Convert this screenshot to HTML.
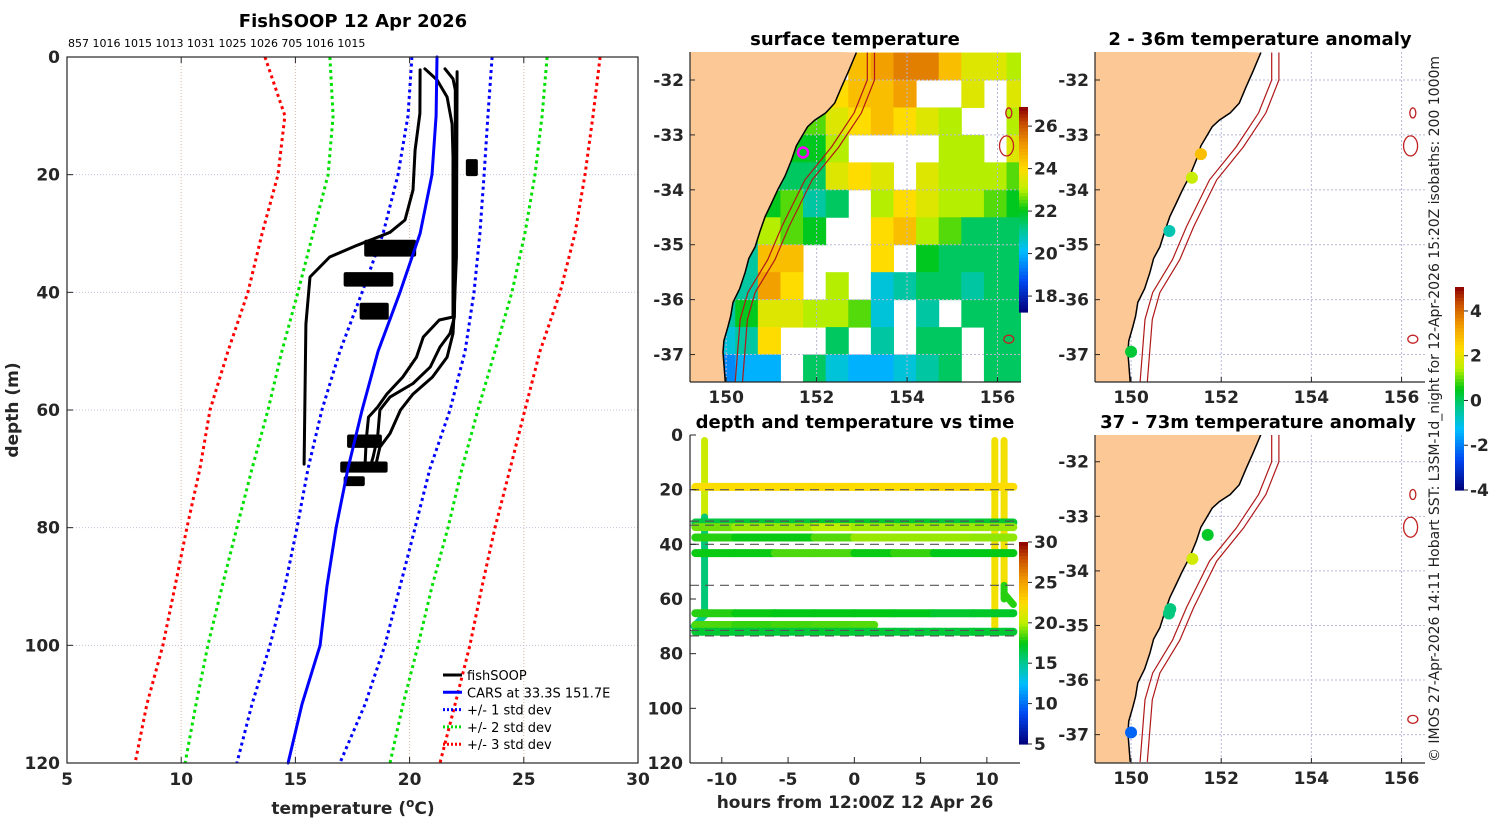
<!DOCTYPE html>
<html><head><meta charset="utf-8"><title>FishSOOP</title>
<style>
html,body{margin:0;padding:0;background:#fff;}
svg{display:block;font-family:"DejaVu Sans","Liberation Sans",sans-serif;}
.tk{font-size:17px;font-weight:bold;fill:#262626;}
.tt{font-size:18px;font-weight:bold;fill:#000;}
</style></head>
<body>
<svg id="fig" width="1500" height="820" viewBox="0 0 1500 820" xmlns="http://www.w3.org/2000/svg">
<rect width="1500" height="820" fill="#fff"/>
</svg>
<script>
// ---------- Profile panel data ----------
const profDepths = [0,10,20,30,40,50,60,70,80,90,100,110,120];
const carsMean = [21.2,21.16,20.98,20.46,19.58,18.62,17.92,17.3,16.78,16.38,16.08,15.29,14.68];
const std1Lo = [20.1,19.93,19.49,18.84,17.92,16.95,16.16,15.55,15.07,14.54,13.89,13.1,12.44];
const std1Hi = [23.61,23.43,23.26,23.08,22.82,22.43,21.77,20.89,20.24,19.58,18.92,18.05,16.95];
const std2Lo = [16.51,16.65,16.43,15.77,15.11,14.41,13.8,13.1,12.44,11.79,11.17,10.65,10.17];
const std2Hi = [26.02,25.8,25.49,25.05,24.48,23.74,22.99,22.29,21.68,20.98,20.37,19.71,19.14];
const std3Lo = [13.67,14.54,14.24,13.54,12.92,12.05,11.26,10.82,10.25,9.73,9.2,8.5,7.98];
const std3Hi = [28.34,28.03,27.68,27.24,26.59,25.71,25.05,24.4,23.74,23.17,22.64,21.99,21.33];
const profAD = [2.2,9.6,15.8,22.6,27.7,29.8,32,34,37.4,45.4,69.2];
const profAT = [20.46,20.45,20.24,20.15,19.8,19.14,17.7,16.5,15.64,15.46,15.38];
const profBD = [2,3.9,6.8,11.4,17,34,44.2,44.7,47.6,51,54.4,57.3,59.5,61.2,65.1,69.2];
const profBT = [20.67,21.2,21.64,21.86,21.9,21.9,21.9,21.3,20.6,20.3,19.7,19,18.6,18.2,18.1,18.05];
const profCD = [2,3.7,5.6,34,44.2,47,49.3,52.7,55.5,57.8,60,64.6,68,69.7];
const profCT = [21.55,21.9,22.0,22.0,21.96,21.77,21.33,20.9,20.15,19.14,18.7,18.6,18.4,18.27];
const profDD = [2.5,34,44.2,47,51,54.4,57.3,60,64,66.3,69.7];
const profDT = [22.08,22.05,21.94,21.9,21.64,21.0,20.15,19.6,19.14,18.7,18.5];
const blobDepth = [18.8,32.5,37.8,43.2,65.3,69.7,72.1];
const blobTmin = [22.55,18.1,17.2,17.9,17.35,17.05,17.2];
const blobTmax = [22.9,20.2,19.2,19.0,18.7,18.95,17.95];
const blobThick = [2.2,2.2,1.8,2.2,1.6,1.2,1.0];
const topLabels = "857 1016 1015 1013 1031 1025 1026 705 1016 1015";
const profXTicks = [5,10,15,20,25,30];
const profYTicks = [0,20,40,60,80,100,120];

// ---------- Time panel data ----------
const bandDepths = [19,32,33.7,37.5,43.2,65.2,69.5,72];
const bandStart = [-12,-12,-12,-12,-12,-12,-12,-12];
const bandEnd = [12,12,12,12,12,12,1.5,12];
const bandHours = [-12,-9,-6,-3,0,3,6,9,12];
const bandTemps = [
 [22.4,22.5,22.5,22.6,22.5,22.5,22.7,22.5,22.5],
 [16.6,16.8,16.8,17.0,17.0,17.0,16.8,17.0,16.8],
 [19.0,19.5,19.5,20.0,19.6,19.5,19.5,19.5,19.0],
 [18.0,17.6,17.6,18.6,19.5,19.5,19.5,19.4,19.4],
 [17.6,17.6,18.5,18.5,17.6,18.2,17.4,17.5,18.0],
 [18.0,17.6,17.5,17.5,17.5,17.4,17.0,17.1,17.0],
 [18.5,18.2,18.4,18.5,18.6,18.4,18.4,18.4,18.4],
 [16.9,16.8,16.8,16.9,16.8,16.8,16.8,16.9,16.8]];
const castH0 = [-11.3,-11.3,-11.3,10.6,11.3,11.3,11.3];
const castH1 = [-11.3,-11.3,-12.1,10.6,11.3,11.3,12.0];
const castD0 = [2,30,66,2,2,55,58];
const castD1 = [30,66,70,70,55,60,62];
const castT = [20.5,15.6,15.0,22.0,22.0,18.0,18.0];
const dashDepths = [20,31.5,33,40,55,71.5,73.5];
const timeXTicks = [-10,-5,0,5,10];
const timeYTicks = [0,20,40,60,80,100,120];
const timeCbTicks = [5,10,15,20,25,30];

// ---------- Map data ----------
const coastLon = [152.88,152.7,152.55,152.4,152.2,151.96,151.8,151.67,151.55,151.45,151.3,151.14,151.0,150.86,150.75,150.64,150.5,150.42,150.3,150.15,150.1,150.04,149.95,149.93,149.98];
const coastLat = [-31.5,-31.85,-32.13,-32.42,-32.6,-32.73,-32.85,-33.03,-33.2,-33.45,-33.75,-34.0,-34.25,-34.49,-34.75,-35.04,-35.25,-35.5,-35.8,-36.05,-36.3,-36.49,-36.75,-36.96,-37.5];
const iso200Lon = [153.12,153.12,152.83,152.33,151.74,151.23,150.92,150.48,150.31,150.2];
const iso200Lat = [-31.5,-32.0,-32.6,-33.22,-33.82,-34.67,-35.27,-35.87,-36.36,-37.5];
const sstLonEdges = [149.2,149.7,150.2,150.7,151.2,151.7,152.2,152.7,153.2,153.7,154.2,154.7,155.2,155.7,156.2,156.7];
const sstLatEdges = [-31.5,-32,-32.5,-33,-33.5,-34,-34.5,-35,-35.5,-36,-36.5,-37,-37.5];
const N=null;
const sst = [
 [N,N,N,N,N,N,N,24.5,25,25.5,25.5,24.5,23.5,23.5,23],
 [N,N,N,N,N,N,24,24.5,24.5,25,N,N,23.5,N,23.5],
 [N,N,N,N,N,22.5,23.5,24,24.5,24,23.5,23,N,N,23],
 [N,N,N,N,22,22,23,N,N,N,N,23,23,N,23.5],
 [N,N,N,21.5,21.5,21.5,23.5,24,23.5,N,23.5,23,23,23,22.5],
 [N,N,N,22,22.5,21,21.5,N,23,24,23.5,23,23,22.5,22],
 [N,N,21,23,22.5,22,N,N,24,24.5,23,22.5,21.5,21.5,21.5],
 [N,N,21,24.5,24.5,N,N,N,24,N,22,21.5,21.5,21.5,21.5],
 [N,N,21,25,24,N,23,N,20.5,21,21.5,21.5,21,21.5,21.5],
 [N,21,22,23.5,23.5,23,23,22.5,20.5,N,21,N,21.5,21.5,21.5],
 [N,20.5,21,24,N,N,21.5,N,21,N,21.5,21.5,N,21.5,21.5],
 [N,19.5,20,20,N,21.5,20.5,20,20,20.5,21,21.5,N,21.5,21.5]];
const anomTopLon = [151.55,151.35,150.85,150.0];
const anomTopLat = [-33.35,-33.78,-34.75,-36.95];
const anomTopVal = [2.8,1.6,-0.6,0.3];
const anomBotLon = [151.7,151.36,150.87,150.84,150.0];
const anomBotLat = [-33.34,-33.78,-34.7,-34.78,-36.96];
const anomBotVal = [0.4,1.7,-0.2,-0.2,-2.3];
const mapLonTicks = [150,152,154,156];
const mapLatTicks = [-32,-33,-34,-35,-36,-37];
const sstCbTicks = [18,20,22,24,26];
const anomCbTicks = [-4,-2,0,2,4];

// ---------- helpers ----------
const NS="http://www.w3.org/2000/svg";
const fig=document.getElementById('fig');
function mk(tag,attrs,parent){const e=document.createElementNS(NS,tag);for(const k in attrs)e.setAttribute(k,attrs[k]);(parent||fig).appendChild(e);return e;}
function txt(s,x,y,cls,anchor,parent){const t=mk('text',{x:x,y:y,'class':cls,'text-anchor':anchor||'middle'},parent);t.textContent=s;return t;}
const cmapStops=[[0,[0,0,120]],[0.15,[0,70,240]],[0.3,[0,190,255]],[0.4,[0,200,150]],[0.5,[0,200,20]],[0.6,[190,240,0]],[0.7,[255,220,0]],[0.82,[240,150,0]],[0.92,[200,80,0]],[1,[140,0,0]]];
function jet(v){v=Math.max(0,Math.min(1,v));for(let i=1;i<cmapStops.length;i++){if(v<=cmapStops[i][0]){const a=cmapStops[i-1],b=cmapStops[i];const f=(v-a[0])/(b[0]-a[0]);const c=a[1].map((x,k)=>Math.round(x+(b[1][k]-x)*f));return `rgb(${c[0]},${c[1]},${c[2]})`;}}return 'rgb(140,0,0)';}
function lin(d0,d1,p0,p1){return v=>p0+(v-d0)/(d1-d0)*(p1-p0);}

// ---------- Panel 1: profiles ----------
const px=lin(5,30,67,638), py=lin(0,120,57,763);
const g1=mk('g',{});


profXTicks.slice(1,-1).forEach(t=>{const l=mk('line',{x1:px(t),x2:px(t),y1:57,y2:763,stroke:'#d9b8a8','stroke-width':1,'stroke-dasharray':'1,2'},g1);});
profYTicks.slice(1,-1).forEach(t=>{const l=mk('line',{x1:67,x2:638,y1:py(t),y2:py(t),stroke:'#c8c0d8','stroke-width':1,'stroke-dasharray':'1,2'},g1);});
function profLine(ts,ds,color,w,dash,name){const pts=ts.map((t,i)=>px(t).toFixed(1)+','+py(ds[i]).toFixed(1)).join(' ');const p=mk('polyline',{points:pts,fill:'none',stroke:color,'stroke-width':w,'stroke-linejoin':'round'},g1);if(dash)p.setAttribute('stroke-dasharray',dash);else p.setAttribute('stroke-linecap','round');return p;}
const DOT='3,3.5';
profLine(std3Lo,profDepths,'#ff0000',3,DOT,'std3-lower');
profLine(std3Hi,profDepths,'#ff0000',3,DOT,'std3-upper');
profLine(std2Lo,profDepths,'#00e000',3,DOT,'std2-lower');
profLine(std2Hi,profDepths,'#00e000',3,DOT,'std2-upper');
profLine(std1Lo,profDepths,'#0000ff',3,DOT,'std1-lower');
profLine(std1Hi,profDepths,'#0000ff',3,DOT,'std1-upper');
profLine(profAT,profAD,'#000',3,null,'fishsoop-profile-a');
profLine(profBT,profBD,'#000',3,null,'fishsoop-profile-b');
profLine(profCT,profCD,'#000',3,null,'fishsoop-profile-c');
profLine(profDT,profDD,'#000',3,null,'fishsoop-profile-d');
blobDepth.forEach((d,i)=>{const r=mk('rect',{x:px(blobTmin[i]),y:py(d-blobThick[i]/2),width:px(blobTmax[i])-px(blobTmin[i]),height:py(blobThick[i])-py(0),fill:'#000',stroke:'#000','stroke-width':4,'stroke-linejoin':'round'},g1);});
profLine(carsMean,profDepths,'#0000ff',3,null,'cars-mean-profile');
mk('rect',{x:67,y:57,width:571,height:706,fill:'none',stroke:'#262626','stroke-width':1.2},g1);
profXTicks.forEach(t=>{mk('line',{x1:px(t),x2:px(t),y1:763,y2:757,stroke:'#262626'},g1);mk('line',{x1:px(t),x2:px(t),y1:57,y2:63,stroke:'#262626'},g1);const l=txt(String(t),px(t),785,'tk','middle',g1);});
profYTicks.forEach(t=>{mk('line',{x1:67,x2:73,y1:py(t),y2:py(t),stroke:'#262626'},g1);const l=txt(String(t),60,py(t)+6,'tk','end',g1);});
let e=txt('FishSOOP 12 Apr 2026',353,27,'tt','middle',g1);
e=mk('text',{x:68,y:47,'font-size':'11px',fill:'#000'},g1);e.textContent=topLabels;
e=mk('text',{x:353,y:814,'text-anchor':'middle','class':'tk'},g1);e.innerHTML='temperature (<tspan font-size="12" dy="-7">o</tspan><tspan dy="7">C)</tspan>';
e=txt('depth (m)',18,410,'tk','middle',g1);e.setAttribute('transform','rotate(-90 18 410)');
const legNames=['fishSOOP','CARS at 33.3S 151.7E','+/- 1 std dev','+/- 2 std dev','+/- 3 std dev'];
const legCols=['#000','#0000ff','#0000ff','#00e000','#ff0000'];
const legDash=[null,null,'2,2','2,2','2,2'];
legNames.forEach((n,i)=>{const y=675+i*17.3;const l=mk('line',{x1:443,x2:462,y1:y,y2:y,stroke:legCols[i],'stroke-width':3},g1);if(legDash[i])l.setAttribute('stroke-dasharray',legDash[i]);const t=mk('text',{x:467,y:y+5,'font-size':'13px',fill:'#000'},g1);t.textContent=n;});

// ---------- Panel 3: time ----------
const tx=lin(-12.4,12.5,690,1020), ty=lin(0,120,435,763);
const g3=mk('g',{});


function segLine(x1,y1,x2,y2,col,w,g,name){const l=mk('line',{x1:x1,y1:y1,x2:x2,y2:y2,stroke:col,'stroke-width':w,'stroke-linecap':'round'},g);return l;}
castH0.forEach((h,i)=>{segLine(tx(h),ty(castD0[i]),tx(castH1[i]),ty(castD1[i]),jet((castT[i]-5)/25),7,g3,'cast-trace');});
bandDepths.forEach((d,b)=>{for(let k=0;k<bandHours.length-1;k++){let h0=Math.max(bandHours[k],bandStart[b]),h1=Math.min(bandHours[k+1],bandEnd[b]);if(h1<=h0)continue;segLine(tx(h0),ty(d),tx(h1),ty(d),jet((bandTemps[b][k]-5)/25),8,g3,'depth-band-segment');}});
dashDepths.forEach(d=>{const l=mk('line',{x1:690,x2:1020,y1:ty(d),y2:ty(d),stroke:'#555','stroke-width':1.2,'stroke-dasharray':'9,6'},g3);});
mk('line',{x1:690,x2:690,y1:435,y2:763,stroke:'#262626','stroke-width':1.2},g3);
mk('line',{x1:690,x2:1020,y1:763,y2:763,stroke:'#262626','stroke-width':1.2},g3);
timeXTicks.forEach(t=>{mk('line',{x1:tx(t),x2:tx(t),y1:763,y2:757,stroke:'#262626'},g3);const l=txt(String(t),tx(t),785,'tk','middle',g3);});
timeYTicks.forEach(t=>{mk('line',{x1:690,x2:696,y1:ty(t),y2:ty(t),stroke:'#262626'},g3);const l=txt(String(t),683,ty(t)+6,'tk','end',g3);});
e=txt('depth and temperature vs time',855,428,'tt','middle',g3);
e=txt('hours from 12:00Z 12 Apr 26',855,808,'tk','middle',g3);
function colorbar(x,y0,y1,v0,v1,ticks,g,name){const cg=mk('g',{},g);const n=60;for(let i=0;i<n;i++){const ya=y1+(y0-y1)*i/n,yb=y1+(y0-y1)*(i+1)/n;mk('rect',{x:x,y:yb,width:9,height:ya-yb+0.6,fill:jet((i+0.5)/n)},cg);}const s=lin(v0,v1,y1,y0);ticks.forEach(t=>{mk('line',{x1:x+9,x2:x+13,y1:s(t),y2:s(t),stroke:'#262626'},cg);const l=txt(String(t),x+15,s(t)+6,'tk','start',cg);l.setAttribute('font-size','15');});}
colorbar(1019,542,744,5,30,timeCbTicks,g3,'time-colorbar');

// ---------- Maps ----------
function drawMap(opt){
 const g=mk('g',{});
 
 
 const mx=lin(149.2,156.52,opt.x0,opt.x1), my=lin(opt.latTop,opt.latBot,opt.y0,opt.y1);
 const cp=mk('clipPath',{id:opt.name+'-clip'},g);mk('rect',{x:opt.x0,y:opt.y0,width:opt.x1-opt.x0,height:opt.y1-opt.y0},cp);
 const inner=mk('g',{'clip-path':`url(#${opt.name}-clip)`},g);
 if(opt.sst){sst.forEach((row,r)=>row.forEach((v,c)=>{if(v===null)return;const rc=mk('rect',{x:mx(sstLonEdges[c]),y:my(sstLatEdges[r]),width:mx(sstLonEdges[c+1])-mx(sstLonEdges[c])+0.5,height:my(sstLatEdges[r+1])-my(sstLatEdges[r])+0.5,fill:jet((v-17.25)/(26.9-17.25))},inner);}));}
 mapLonTicks.forEach(t=>mk('line',{x1:mx(t),x2:mx(t),y1:opt.y0,y2:opt.y1,stroke:'#b8b8d8','stroke-width':1,'stroke-dasharray':'2,2'},inner));
 mapLatTicks.forEach(t=>mk('line',{x1:opt.x0,x2:opt.x1,y1:my(t),y2:my(t),stroke:'#b8b8d8','stroke-width':1,'stroke-dasharray':'2,2'},inner));
 const cpts=coastLon.map((l,i)=>mx(l).toFixed(1)+','+my(coastLat[i]).toFixed(1));
 const land=mk('polygon',{points:[mx(149.0)+','+my(-31.4)].concat(cpts,[mx(149.0)+','+my(-37.6)]).join(' '),fill:'#fcc896',stroke:'none'},inner);
 
 const cl=mk('polyline',{points:cpts.join(' '),fill:'none',stroke:'#000','stroke-width':1.5},inner);
 [0,0.16].forEach((off,k)=>{const p=mk('polyline',{points:iso200Lon.map((l,i)=>mx(l+off).toFixed(1)+','+my(iso200Lat[i]).toFixed(1)).join(' '),fill:'none',stroke:'#b01818','stroke-width':1.2},inner);});
 [[156.2,-33.2,7,10],[156.25,-32.6,3,5],[156.25,-36.72,5,4]].forEach(s=>{const el=mk('ellipse',{cx:mx(s[0]),cy:my(s[1]),rx:s[2],ry:s[3],fill:'none',stroke:'#c02020','stroke-width':1.3},inner);});
 if(opt.sst){const m=mk('circle',{cx:mx(151.7),cy:my(-33.32),r:5,fill:'none',stroke:'#ff00ff','stroke-width':2.5},inner);}
 if(opt.dLon){opt.dLon.forEach((l,i)=>{const c=mk('circle',{cx:mx(l),cy:my(opt.dLat[i]),r:6,fill:jet((opt.dVal[i]+4)/9.07)},inner);});}
 mk('line',{x1:opt.x0,x2:opt.x1,y1:opt.y1,y2:opt.y1,stroke:'#262626','stroke-width':1.2},g);
 mk('line',{x1:opt.x0,x2:opt.x0,y1:opt.y0,y2:opt.y1,stroke:'#262626','stroke-width':1.2},g);
 mapLonTicks.forEach(t=>{mk('line',{x1:mx(t),x2:mx(t),y1:opt.y1,y2:opt.y1-5,stroke:'#262626'},g);const l=txt(String(t),mx(t),opt.y1+21,'tk','middle',g);});
 mapLatTicks.forEach(t=>{mk('line',{x1:opt.x0,x2:opt.x0+5,y1:my(t),y2:my(t),stroke:'#262626'},g);const l=txt(String(t),opt.x0-6,my(t)+6,'tk','end',g);});
 const ti=txt(opt.title,opt.tx,opt.ty,'tt','middle',g);
 return g;
}
const gS=drawMap({name:'surface-temperature-map',x0:690,x1:1021,y0:52,y1:382,latTop:-31.49,latBot:-37.5,sst:true,title:'surface temperature',tx:855,ty:45});
colorbar(1019,107,312,17.25,26.9,sstCbTicks,gS,'sst-colorbar');
drawMap({name:'anomaly-map-shallow',x0:1095,x1:1425,y0:52,y1:382,latTop:-31.49,latBot:-37.5,dLon:anomTopLon,dLat:anomTopLat,dVal:anomTopVal,title:'2 - 36m temperature anomaly',tx:1260,ty:45});
const gB=drawMap({name:'anomaly-map-deep',x0:1095,x1:1425,y0:435,y1:763,latTop:-31.51,latBot:-37.52,dLon:anomBotLon,dLat:anomBotLat,dVal:anomBotVal,title:'37 - 73m temperature anomaly',tx:1258,ty:428});
colorbar(1455,287,490,-4.0,5.07,anomCbTicks,gB,'anomaly-colorbar');
e=mk('text',{x:1439,y:762,'font-size':'14px',fill:'#222',transform:'rotate(-90 1439 762)',textLength:706,lengthAdjust:'spacingAndGlyphs'});
e.textContent='© IMOS 27-Apr-2026 14:11 Hobart SST: L3SM-1d_night for 12-Apr-2026 15:20Z isobaths: 200  1000m';


</script>
</body></html>
